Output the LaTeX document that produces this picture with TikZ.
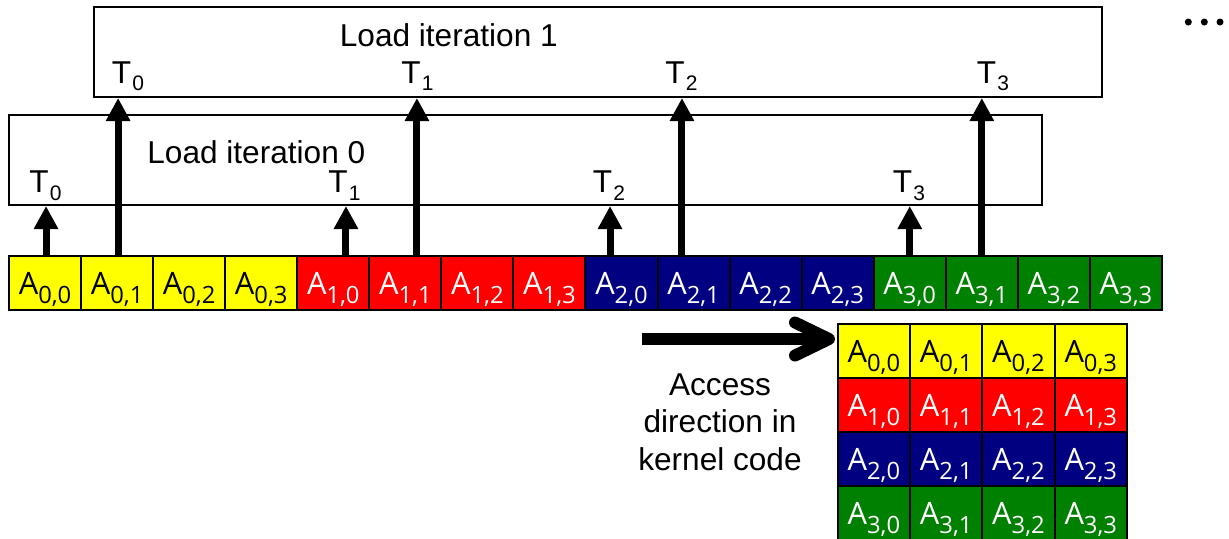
\documentclass[tikz,border=0pt]{standalone}
\usepackage{fontspec}
\setmainfont{Liberation Sans}
\newfontfamily\cellfont{Open Sans}
\usetikzlibrary{arrows.meta,calc}
\definecolor{cyel}{RGB}{255,255,0}
\definecolor{cred}{RGB}{255,0,0}
\definecolor{cblue}{RGB}{0,0,128}
\definecolor{cgreen}{RGB}{0,128,0}
\newcommand{\Tsub}[1]{T\kern0.6pt\raisebox{-3.65pt}{\fontsize{10.5}{12}\selectfont #1}}
\newcommand{\Acell}[2]{A\raisebox{-4.5pt}{\fontsize{11.9}{13}\selectfont #1,#2}}
\tikzset{
  cellbox/.style={draw=black, line width=1pt, minimum width=36.03pt, minimum height=27pt,
    inner sep=0pt, anchor=north west, text height=13pt, text depth=2pt,
    font=\fontsize{15.4}{18}\selectfont\cellfont},
  gridbox/.style={cellbox, minimum width=36.15pt},
  row0/.style={fill=cyel, text=black},
  row1/.style={fill=cred, text=white},
  row2/.style={fill=cblue, text=white},
  row3/.style={fill=cgreen, text=white},
  loadbox/.style={draw=black, line width=1pt, inner sep=0pt, anchor=north west, minimum height=45pt},
  lbl/.style={inner sep=0pt, anchor=base west, font=\fontsize{15.8}{18.75}\selectfont},
  arr/.style={line width=3.5pt, -{Triangle[length=11.5pt, width=11.5pt]}},
  bigarr/.style={line width=6pt},
}
\begin{document}
\begin{tikzpicture}[x=0.5pt, y=-0.5pt]
\useasboundingbox (0,0) rectangle (1229,538);
% load boxes
\node[loadbox, minimum width=504pt] (load1) at (93,6) {};
\node[loadbox, minimum width=516.5pt] (load0) at (8,114) {};
\node[lbl] (tload1) at (339.5,46.7) {Load iteration 1};
\node[lbl] (tload0) at (147,163.3) {Load iteration 0};
% top row of cells
\foreach \i in {0,...,15}{
  \pgfmathtruncatemacro{\rr}{int(\i/4)}
  \pgfmathtruncatemacro{\kk}{mod(\i,4)}
  \node[cellbox, row\rr] (c\i) at ({8+72.06*\i},255) {\Acell{\rr}{\kk}};
}
% arrows of load iteration 0
\draw[arr] ([xshift=0.5pt]c0.north) -- ([xshift=0.5pt]c0.north |- load0.south);
\draw[arr] ([xshift=6.35pt]c4.north) -- ([xshift=6.35pt]c4.north |- load0.south);
\draw[arr] ([xshift=-5.75pt]c8.north) -- ([xshift=-5.75pt]c8.north |- load0.south);
\draw[arr] (c12.north) -- (c12.north |- load0.south);
% arrows of load iteration 1
\draw[arr] ([xshift=0.5pt]c1.north) -- ([xshift=0.5pt]c1.north |- load1.south);
\draw[arr] ([xshift=5.8pt]c5.north) -- ([xshift=5.8pt]c5.north |- load1.south);
\draw[arr] ([xshift=-5.8pt]c9.north) -- ([xshift=-5.8pt]c9.north |- load1.south);
\draw[arr] (c13.north) -- (c13.north |- load1.south);
% thread labels
\node[lbl] (l0t0) at (29,192.7) {\Tsub{0}};
\node[lbl] (l0t1) at (328,192.7) {\Tsub{1}};
\node[lbl] (l0t2) at (592.5,192.7) {\Tsub{2}};
\node[lbl] (l0t3) at (892.5,192.7) {\Tsub{3}};
\node[lbl] (l1t0) at (111.5,83.3) {\Tsub{0}};
\node[lbl] (l1t1) at (401,83.3) {\Tsub{1}};
\node[lbl] (l1t2) at (665,83.3) {\Tsub{2}};
\node[lbl] (l1t3) at (976.5,83.3) {\Tsub{3}};
% dots
\fill (1188.3,22) circle[radius=1.75pt];
\fill (1204.3,22) circle[radius=1.75pt];
\fill (1220,22) circle[radius=1.75pt];
% grid
\foreach \rr in {0,...,3}{
  \foreach \kk in {0,...,3}{
    \node[gridbox, row\rr] (g\rr\kk) at ({836.7+72.3*\kk},{323+54*\rr}) {\Acell{\rr}{\kk}};
  }
}
% access arrow
\coordinate (accstart) at (641.7,339);
\coordinate (acctip) at ([xshift=-3.85pt,yshift=-8pt]g00.north west);
\draw[bigarr] (accstart) -- (acctip);
\draw[bigarr, line cap=round, line join=round] ([shift={(-34,-16.5)}]acctip) -- (acctip) -- ([shift={(-34,16.5)}]acctip);
\node[inner sep=0pt, anchor=north, align=center, font=\fontsize{15.8}{18.75}\selectfont] (acctext) at (720,373) {Access\\direction in\\kernel code};
\end{tikzpicture}
\end{document}
